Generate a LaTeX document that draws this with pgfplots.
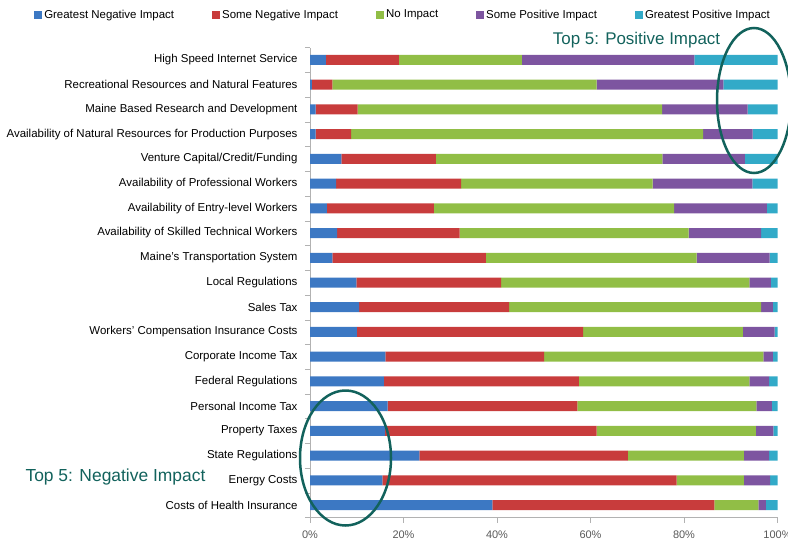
\documentclass[border=0pt]{standalone}
\usepackage{fontspec}
\setmainfont{Liberation Sans}
\usepackage{pgfplots}
\usepackage{pgfplotstable}
\pgfplotsset{compat=1.18}

\definecolor{gneg}{RGB}{60,120,195}
\definecolor{sneg}{RGB}{200,60,60}
\definecolor{noimp}{RGB}{145,190,70}
\definecolor{spos}{RGB}{125,85,160}
\definecolor{gpos}{RGB}{50,170,200}
\definecolor{note}{RGB}{18,98,92}

% rows from bottom (0) to top (18), shares in percent
\pgfplotstableread{
y  gn   sn   ni   sp   gp
0  39.0 47.5 9.4  1.6  2.5
1  15.5 62.9 14.4 5.6  1.6
2  23.4 44.6 24.8 5.4  1.8
3  16.0 45.3 34.1 3.7  0.9
4  16.6 40.6 38.3 3.3  1.2
5  15.8 41.7 36.5 4.2  1.8
6  16.1 34.0 46.9 2.0  1.0
7  10.0 48.4 34.2 6.8  0.6
8  10.5 32.1 53.9 2.5  1.0
9  9.9  31.0 53.1 4.6  1.4
10 4.8  32.8 45.1 15.6 1.7
11 5.8  26.2 49.0 15.5 3.5
12 3.6  22.9 51.4 19.8 2.3
13 5.6  26.7 41.0 21.3 5.4
14 6.7  20.2 48.5 17.6 7.0
15 1.2  7.6  75.3 10.6 5.3
16 1.2  9.0  65.1 18.3 6.4
17 0.4  4.4  56.5 27.1 11.6
18 3.4  15.6 26.3 36.9 17.8
}\impact

\begin{document}
\begin{tikzpicture}
\begin{axis}[
    at={(310bp,-517.5bp)}, anchor=south west,
    scale only axis,
    width=467.5bp, height=470bp,
    xbar stacked,
    bar width=10bp,
    xmin=0, xmax=100,
    ymin=-0.5, ymax=18.5,
    enlargelimits=false,
    axis x line*=bottom,
    axis y line*=left,
    axis line style={draw=gray!60, -},
    tick align=outside,
    major tick length=5bp,
    minor tick length=5bp,
    xtick={0,20,...,100},
    xticklabel={\pgfmathprintnumber{\tick}\%},
    x tick style={draw=gray!60},
    xticklabel style={text=black!65, font=\fontsize{11}{12}\selectfont, yshift=-5bp},
    ytick={0,...,18},
    major y tick style={draw=none},
    minor ytick={-0.5,0.5,...,18.5},
    minor y tick style={draw=gray!60},
    yticklabels={Costs of Health Insurance, Energy Costs, State Regulations,
        Property Taxes, Personal Income Tax, Federal Regulations,
        Corporate Income Tax, Workers’ Compensation Insurance Costs, Sales Tax,
        Local Regulations, Maine’s Transportation System,
        Availability of Skilled Technical Workers,
        Availability of Entry-level Workers,
        Availability of Professional Workers,
        Venture Capital/Credit/Funding,
        Availability of Natural Resources for Production Purposes,
        Maine Based Research and Development,
        Recreational Resources and Natural Features,
        High Speed Internet Service},
    yticklabel style={font=\fontsize{11.5}{13}\selectfont, xshift=-4bp},
    /pgf/number format/assume math mode=true,
    legend columns=5,
    legend style={at={(0.199,1.0696)}, anchor=center, draw=none, fill=none,
        font=\fontsize{11.5}{13}\selectfont,
        /tikz/every even column/.append style={column sep=36bp}},
    legend image code/.code={\fill[#1] (0bp,-4bp) rectangle (8bp,4bp);},
]
\addplot[fill=gneg, draw=none] table[x=gn, y=y] {\impact};
\addplot[fill=sneg, draw=none] table[x=sn, y=y] {\impact};
\addplot[fill=noimp, draw=none] table[x=ni, y=y] {\impact};
\addplot[fill=spos, draw=none] table[x=sp, y=y] {\impact};
\addplot[fill=gpos, draw=none] table[x=gp, y=y] {\impact};
\legend{Greatest Negative Impact, Some Negative Impact, No Impact,
    Some Positive Impact, Greatest Positive Impact}
\end{axis}

\draw[note, line width=2.5bp] (754bp,-100.5bp) ellipse [x radius=37bp, y radius=72.5bp];
\draw[note, line width=2.5bp] (345.5bp,-458bp) ellipse [x radius=45.5bp, y radius=67.5bp];
\node[text=note, font=\fontsize{17}{20}\selectfont] at (636.5bp,-40bp) {Top 5: Positive Impact};
\node[text=note, font=\fontsize{17.5}{20}\selectfont] at (115.5bp,-477bp) {Top 5: Negative Impact};

\pgfresetboundingbox
\path[use as bounding box] (0,0) rectangle (788bp,-544bp);
\end{tikzpicture}
\end{document}
